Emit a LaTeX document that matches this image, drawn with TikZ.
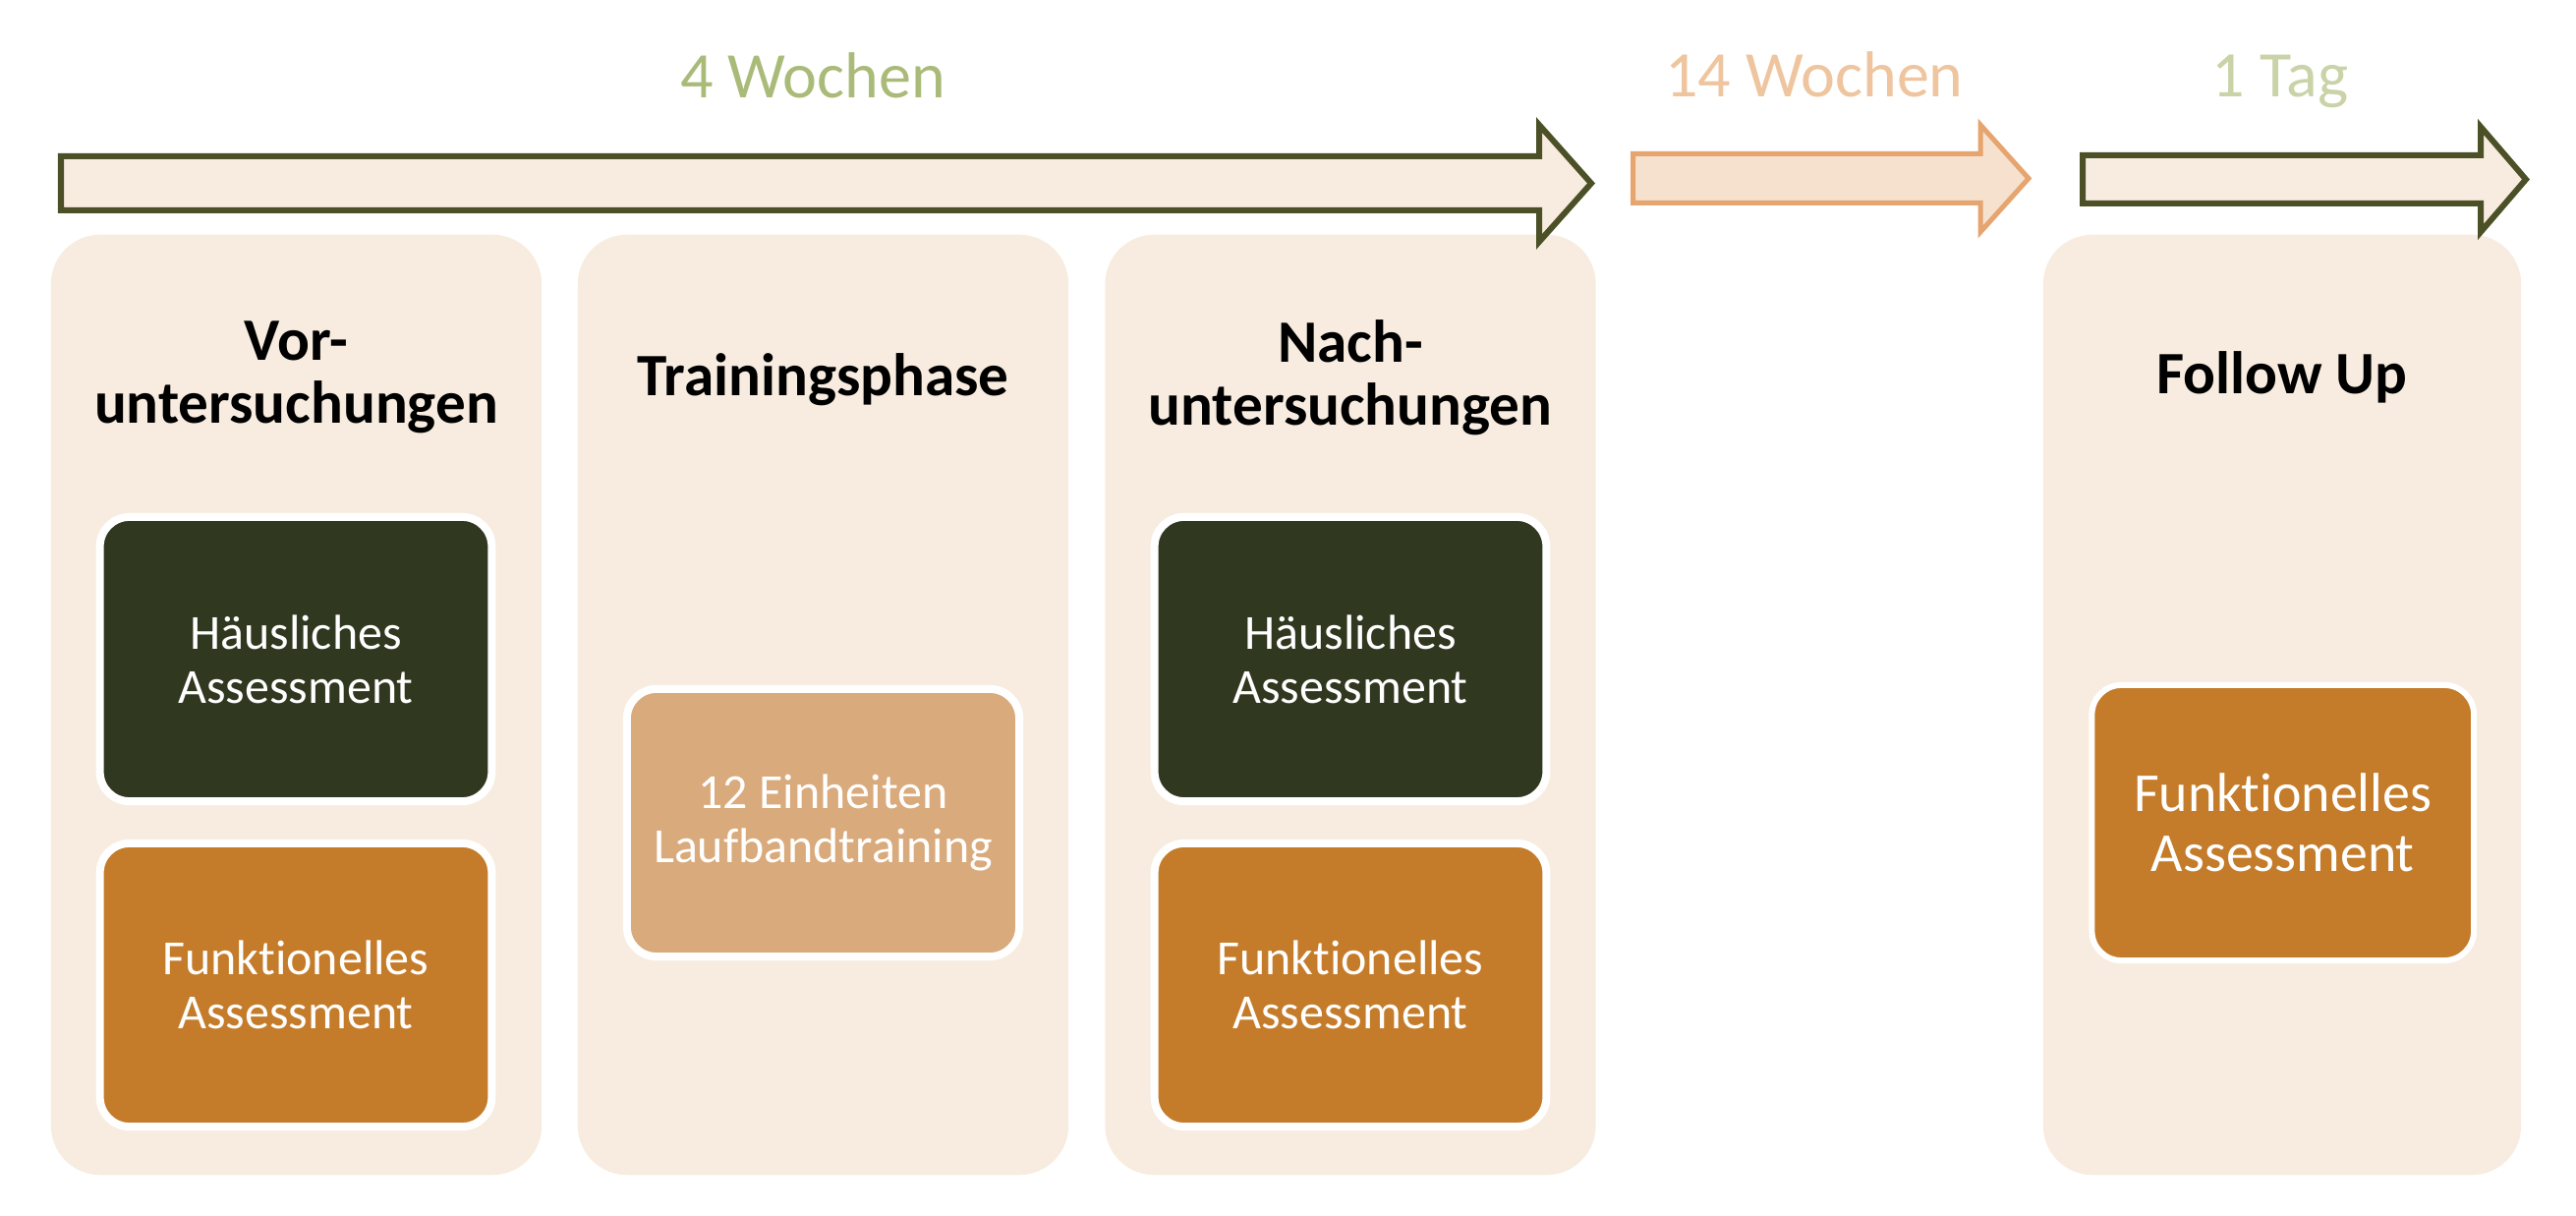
\documentclass[tikz,border=0pt]{standalone}
\usepackage{fontspec}
\setmainfont{Carlito}[Ligatures=NoCommon]
\usetikzlibrary{positioning}
\definecolor{pale}{HTML}{F7ECDF}
\definecolor{arrowline}{HTML}{4B5027}
\definecolor{darkmoss}{HTML}{313820}
\definecolor{copper}{HTML}{C47C2A}
\definecolor{sand}{HTML}{D9AA7C}
\definecolor{peach}{HTML}{F5E1CE}
\definecolor{apricot}{HTML}{E6A46F}
\definecolor{sage}{HTML}{AABB79}
\definecolor{lightsage}{HTML}{C9D3A7}
\definecolor{lightpeach}{HTML}{EEC59E}

\begin{document}
\begin{tikzpicture}[x=0.01cm,y=-0.01cm,
  phasebox/.style={fill=pale,rounded corners=0.5cm,minimum width=4.99cm,minimum height=9.56cm,inner sep=0pt},
  heading/.style={font=\fontsize{17.4pt}{18.2pt}\selectfont\bfseries,align=center,inner sep=0pt},
  task/.style={draw=white,line width=0.08cm,rounded corners=0.3cm,text=white,align=center,inner sep=0pt,
    minimum width=3.985cm,font=\fontsize{14.2pt}{15.6pt}\selectfont},
  timearrow/.style={line width=0.06cm,draw=arrowline,fill=pale},
  duration/.style={anchor=base,font=\fontsize{18.8pt}{22pt}\selectfont}]
\useasboundingbox (0,0) rectangle (2621,1237);

% phases
\node[phasebox] (vor) at (301.5,717) {};
\node[phasebox] (training) at (837.5,717) {};
\node[phasebox] (nach) at (1374,717) {};
\node[phasebox,minimum width=4.86cm] (follow) at (2322,717) {};

\node[heading] (vorTitle) at (301.5,384) {Vor-\\untersuchungen};
\node[heading,anchor=base] (trainingTitle) at (837.5,403) {Trainingsphase};
\node[heading] (nachTitle) at (1374,384) {Nach-\\untersuchungen};
\node[heading,anchor=base] (followTitle) at (2322,401) {Follow Up};

% tasks
\node[task,fill=darkmoss,minimum height=2.89cm] (vorHome) at (301,670.5) {Häusliches\\Assessment};
\node[task,fill=copper,minimum height=2.88cm] (vorFunc) at (301,1002) {Funktionelles\\Assessment};
\node[task,fill=sand,minimum width=3.99cm,minimum height=2.72cm] (treadmill) at (837.5,837) {12 Einheiten\\Laufbandtraining};
\node[task,fill=darkmoss,minimum height=2.89cm] (nachHome) at (1374,670.5) {Häusliches\\Assessment};
\node[task,fill=copper,minimum height=2.88cm] (nachFunc) at (1374,1002) {Funktionelles\\Assessment};
\node[task,fill=copper,line width=0.06cm,minimum width=3.885cm,minimum height=2.8cm,
  font=\fontsize{15.9pt}{17.4pt}\selectfont] (followFunc) at (2322.75,837) {Funktionelles\\Assessment};

% time line
\draw[timearrow] (62,159) -- (1566,159) -- (1566,127) -- (1619,186.5) -- (1566,246) -- (1566,214) -- (62,214) -- cycle;
\draw[timearrow,draw=apricot,fill=peach,line width=0.05cm] (1661.5,156.5) -- (2015,156.5) -- (2015,127)
  -- (2064,181.5) -- (2015,236) -- (2015,206.5) -- (1661.5,206.5) -- cycle;
\draw[timearrow] (2119,158) -- (2524,158) -- (2524,129) -- (2570,182.5) -- (2524,236) -- (2524,207) -- (2119,207) -- cycle;

\node[duration,text=sage] (weeksFour) at (827,100) {4 Wochen};
\node[duration,text=lightpeach] (weeksFourteen) at (1846,99) {14 Wochen};
\node[duration,text=lightsage] (dayOne) at (2320,99) {1 Tag};
\end{tikzpicture}
\end{document}
